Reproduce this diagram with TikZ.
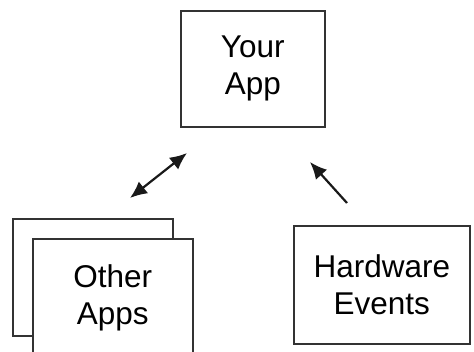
\documentclass[tikz,border=0pt]{standalone}
\usepackage{fontspec}
\setmainfont{Liberation Sans}
\usetikzlibrary{arrows.meta}
\begin{document}
\begin{tikzpicture}[x=1pt,y=-1pt,
  box/.style={draw=black!80,line width=1.6pt,fill=white,anchor=north west,inner sep=0pt,
    align=center,font=\fontsize{31.5}{37}\selectfont},
  conn/.style={line width=2.2pt,black!90},
  tip/.style={-{Latex[length=17pt,width=15pt]}}]
\useasboundingbox (0,0) rectangle (474,351);
\clip (0,0) rectangle (474,351);
\node[box,minimum width=144pt,minimum height=116pt] (app) at (180,10) {Your\\App};
\node[box,minimum width=176pt,minimum height=118pt] (hw) at (293,225) {Hardware\\Events};
\node[box,minimum width=160pt,minimum height=117pt] (back) at (12,218) {};
\node[box,minimum width=160pt,minimum height=118pt] (other) at (32,238) {Other\\Apps};
\coordinate (oa) at (130,198);
\coordinate (ya) at (187,153);
\coordinate (hwt) at (347,203);
\coordinate (yb) at (310,162);
\draw[conn,{Latex[length=17pt,width=15pt]}-{Latex[length=17pt,width=15pt]}] (oa) -- (ya);
\draw[conn,tip] (hwt) -- (yb);
\end{tikzpicture}
\end{document}
